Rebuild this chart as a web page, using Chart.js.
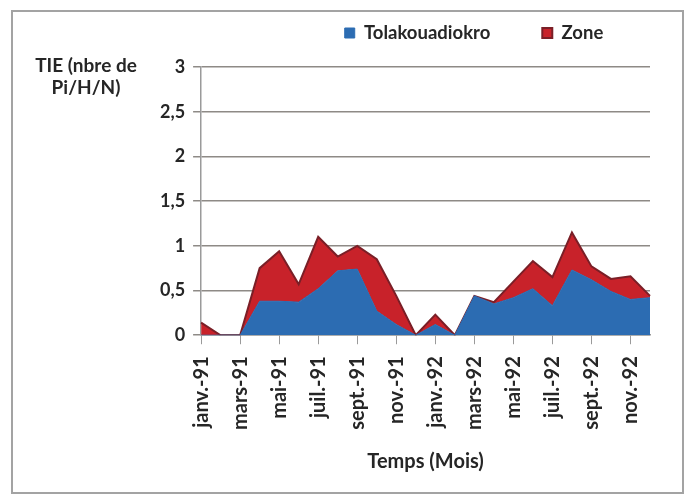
<!DOCTYPE html>
<html>
<head>
<meta charset="utf-8">
<script src="https://cdn.jsdelivr.net/npm/chart.js@4"></script>
<style>
  body { margin: 0; background: #fff; }
  #frame {
    position: absolute; left: 11px; top: 10px;
    width: 673px; height: 484px;
    border: 2px solid #a3a3a3; box-sizing: border-box;
  }
  #wrap { position: absolute; left: 0; top: 0; width: 686px; height: 495px; }
</style>
</head>
<body>
<div id="frame"></div>
<div id="wrap"><canvas id="chart"></canvas></div>
<script>
const months = [
    'janv.-91', 'févr.-91', 'mars-91', 'avr.-91', 'mai-91', 'juin-91',
    'juil.-91', 'août-91', 'sept.-91', 'oct.-91', 'nov.-91', 'déc.-91',
    'janv.-92', 'févr.-92', 'mars-92', 'avr.-92', 'mai-92', 'juin-92',
    'juil.-92', 'août-92', 'sept.-92', 'oct.-92', 'nov.-92', 'déc.-92'
];

// TIE Tolakouadiokro (bas de la pile)
const tolakouadiokro = [
    0, 0, 0, 0.38, 0.38, 0.37, 0.52, 0.72, 0.74, 0.27, 0.12, 0,
    0.12, 0, 0.44, 0.35, 0.42, 0.52, 0.33, 0.73, 0.62, 0.49, 0.40, 0.42
];

// TIE Zone (empilee au-dessus)
const zone = [
    0.14, 0, 0, 0.37, 0.56, 0.20, 0.58, 0.16, 0.26, 0.58, 0.32, 0,
    0.11, 0, 0, 0.02, 0.18, 0.31, 0.32, 0.42, 0.15, 0.14, 0.26, 0.02
];

const yTitle = ['TIE (nbre de', 'Pi/H/N)'];
const xTitle = 'Temps (Mois)';

const FONT = 'Lato';
const TXT = '#262626';
const LEG_PAD = 52;
const LEG_FONT = 18.5;

/* Titre de l'axe Y horizontal en haut a gauche + place de la legende */
const extras = {
    id: 'extras',
    afterLayout(chart) {
        const lg = chart.legend;
        const dx = 474 - (lg.left + lg.right) / 2;
        lg.left += dx;
        lg.right += dx;
        lg.top = 33 - LEG_PAD - LEG_FONT / 2;
        lg.bottom = lg.top + 2 * LEG_PAD + LEG_FONT + 4;
    },
    afterDraw(chart) {
        const ctx = chart.ctx;
        ctx.save();
        ctx.font = 'bold 19px ' + FONT;
        ctx.fillStyle = TXT;
        ctx.textAlign = 'center';
        ctx.textBaseline = 'middle';
        ctx.fillText(yTitle[0], 86, 66);
        ctx.fillText(yTitle[1], 86, 88);
        ctx.restore();
    }
};

new Chart(document.getElementById('chart'), {
    type: 'line',
    data: {
        labels: months,
        datasets: [
            {
                label: 'Tolakouadiokro',
                data: tolakouadiokro,
                backgroundColor: '#2c6cb2',
                borderColor: '#2c6cb2',
                borderWidth: 1,
                fill: 'origin',
                pointRadius: 0,
                tension: 0
            },
            {
                label: 'Zone',
                data: zone,
                backgroundColor: '#c8222a',
                borderColor: '#7a1f27',
                borderWidth: 2,
                fill: '-1',
                pointRadius: 0,
                tension: 0
            }
        ]
    },
    plugins: [extras],
    options: {
        responsive: true,
        maintainAspectRatio: false,
        animation: false,
        layout: { padding: { left: 152, right: 25, top: 12, bottom: 21 } },
        plugins: {
            legend: {
                maxHeight: 55,
                labels: {
                    boxWidth: 10,
                    boxHeight: 10,
                    padding: LEG_PAD,
                    color: TXT,
                    font: { family: FONT, size: LEG_FONT, weight: 'bold' }
                }
            },
            tooltip: { enabled: false }
        },
        scales: {
            x: {
                offset: false,
                border: { color: '#9a9a9a', width: 1.5 },
                grid: {
                    drawOnChartArea: false,
                    tickLength: 9,
                    color: (c) => (c.index % 2 === 0 ? '#9a9a9a' : 'rgba(0,0,0,0)')
                },
                ticks: {
                    autoSkip: false,
                    minRotation: 90,
                    maxRotation: 90,
                    padding: 12,
                    color: TXT,
                    font: { family: FONT, size: 20, weight: 'bold' },
                    callback: function (v, i) { return i % 2 === 0 ? this.getLabelForValue(v) : ''; }
                },
                title: {
                    display: true,
                    text: xTitle,
                    color: TXT,
                    padding: { top: 8, bottom: 0 },
                    font: { family: FONT, size: 20, weight: 'bold' }
                }
            },
            y: {
                stacked: true,
                min: 0,
                max: 3,
                border: { color: '#9a9a9a', width: 1.5 },
                grid: { color: '#8e8a86', lineWidth: 1.5, tickLength: 8 },
                ticks: {
                    stepSize: 0.5,
                    padding: 8,
                    color: TXT,
                    font: { family: FONT, size: 18, weight: 'bold' },
                    callback: (v) => String(v).replace('.', ',')
                }
            }
        }
    }
});
</script>
</body>
</html>
